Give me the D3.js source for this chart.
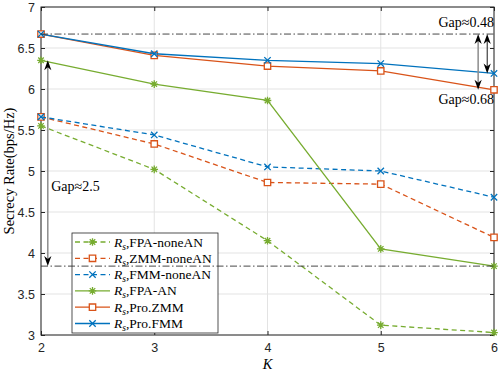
<!DOCTYPE html>
<html>
<head>
<meta charset="utf-8">
<script src="https://cdn.jsdelivr.net/npm/d3@7"></script>
<style>
  body { margin: 0; background: #fff; }
  svg { display: block; }
</style>
</head>
<body>
<div id="chart"></div>
<script>
// K values on the x axis
const kValues = [2, 3, 4, 5, 6];

// secrecy rate per scheme (bps/Hz)
const fpaNoneAN = [5.55, 5.02, 4.15, 3.12, 3.03];
const zmmNoneAN = [5.66, 5.33, 4.86, 4.84, 4.19];
const fmmNoneAN = [5.66, 5.44, 5.05, 5.0, 4.68];
const fpaAN = [6.35, 6.06, 5.86, 4.05, 3.84];
const proZMM = [6.67, 6.41, 6.28, 6.22, 5.99];
const proFMM = [6.67, 6.43, 6.35, 6.31, 6.19];

const seriesNames = ["FPA-noneAN", "ZMM-noneAN", "FMM-noneAN", "FPA-AN", "Pro.ZMM", "Pro.FMM"];

const xTicks = [2, 3, 4, 5, 6];
const yTicks = [3, 3.5, 4, 4.5, 5, 5.5, 6, 6.5, 7];

// dash-dot reference levels
const refLevels = [6.67, 3.84];

// double arrows: k position, from, to
const gapArrows = [
  { k: 2.06, from: 6.35, to: 3.84, shaft: "#8c8c8c" },
  { k: 5.86, from: 6.67, to: 5.99, shaft: "#8c8c8c" },
  { k: 5.94, from: 6.67, to: 6.19, shaft: "#1a1a1a" },
];
const gapLabels = [
  { k: 2.09, v: 4.82, text: "Gap≈2.5", anchor: "start" },
  { k: 6.0, v: 6.82, text: "Gap≈0.48", anchor: "end" },
  { k: 6.0, v: 5.88, text: "Gap≈0.68", anchor: "end" },
];

const blue = "#0072BD";
const orange = "#D95319";
const green = "#77AC30";

const series = [
  { name: seriesNames[0], values: fpaNoneAN, color: green, dashed: true, marker: "star" },
  { name: seriesNames[1], values: zmmNoneAN, color: orange, dashed: true, marker: "square" },
  { name: seriesNames[2], values: fmmNoneAN, color: blue, dashed: true, marker: "cross" },
  { name: seriesNames[3], values: fpaAN, color: green, dashed: false, marker: "star" },
  { name: seriesNames[4], values: proZMM, color: orange, dashed: false, marker: "square" },
  { name: seriesNames[5], values: proFMM, color: blue, dashed: false, marker: "cross" },
];

const width = 498;
const height = 374;
const margin = { top: 7, right: 4, bottom: 39, left: 41 };
const serif = "'Liberation Serif', 'Times New Roman', serif";
const sans = "'Liberation Sans', Arial, sans-serif";
const axisColor = "#262626";

const x = d3.scaleLinear().domain([2, 6]).range([margin.left, width - margin.right]);
const y = d3.scaleLinear().domain([3, 7]).range([height - margin.bottom, margin.top]);

const svg = d3.select("#chart").append("svg").attr("width", width).attr("height", height);
svg.append("rect").attr("width", width).attr("height", height).attr("fill", "#fff");

// grid
const grid = svg.append("g").attr("stroke", "#e3e3e3").attr("stroke-width", 1);
grid.selectAll(".gx").data(xTicks).join("line")
  .attr("x1", (d) => x(d)).attr("x2", (d) => x(d))
  .attr("y1", y(3)).attr("y2", y(7));
grid.selectAll(".gy").data(yTicks).join("line")
  .attr("x1", x(2)).attr("x2", x(6))
  .attr("y1", (d) => y(d)).attr("y2", (d) => y(d));

// axes with inward ticks on all sides
function styleAxis(g) {
  g.select(".domain").remove();
  g.selectAll(".tick line").attr("stroke", axisColor);
  g.selectAll(".tick text").attr("fill", axisColor).style("font-family", sans).style("font-size", "12.5px");
}
svg.append("g").attr("transform", `translate(0,${y(3)})`)
  .call(d3.axisBottom(x).tickValues(xTicks).tickSize(-4).tickPadding(8).tickFormat(d3.format("d")))
  .call(styleAxis);
svg.append("g").attr("transform", `translate(${x(2)},0)`)
  .call(d3.axisLeft(y).tickValues(yTicks).tickSize(-4).tickPadding(6).tickFormat((d) => String(d)))
  .call(styleAxis);
svg.append("g").attr("transform", `translate(0,${y(7)})`)
  .call(d3.axisTop(x).tickValues(xTicks).tickSize(-4).tickFormat(""))
  .call(styleAxis);
svg.append("g").attr("transform", `translate(${x(6)},0)`)
  .call(d3.axisRight(y).tickValues(yTicks).tickSize(-4).tickFormat(""))
  .call(styleAxis);
svg.append("rect")
  .attr("x", x(2)).attr("y", y(7))
  .attr("width", x(6) - x(2)).attr("height", y(3) - y(7))
  .attr("fill", "none").attr("stroke", axisColor).attr("stroke-width", 1);

// markers
function markerPath(type, s) {
  if (type === "square") return `M${-s},${-s}H${s}V${s}H${-s}Z`;
  if (type === "cross") return `M${-s},${-s}L${s},${s}M${-s},${s}L${s},${-s}`;
  const d = s * 0.72;
  return `M${-s},0H${s}M0,${-s}V${s}M${-d},${-d}L${d},${d}M${-d},${d}L${d},${-d}`;
}
const markerSize = { square: 3.2, cross: 3.2, star: 3.8 };

const line = d3.line().x((d) => x(d.k)).y((d) => y(d.v));

series.forEach((s) => {
  const pts = kValues.map((k, i) => ({ k, v: s.values[i] }));
  svg.append("path")
    .datum(pts)
    .attr("fill", "none")
    .attr("stroke", s.color)
    .attr("stroke-width", 1.3)
    .attr("stroke-dasharray", s.dashed ? "5,3.5" : null)
    .attr("d", line);
  svg.append("g").selectAll("path").data(pts).join("path")
    .attr("transform", (d) => `translate(${x(d.k)},${y(d.v)})`)
    .attr("d", markerPath(s.marker, markerSize[s.marker]))
    .attr("fill", s.marker === "square" ? "#fff" : "none")
    .attr("stroke", s.color)
    .attr("stroke-width", 1.3);
});

// legend
const legend = { x: 72, y: 233, w: 146, h: 100, row: 16.3 };
const lg = svg.append("g");
lg.append("rect")
  .attr("x", legend.x).attr("y", legend.y)
  .attr("width", legend.w).attr("height", legend.h)
  .attr("fill", "#fff").attr("stroke", axisColor).attr("stroke-width", 0.8);
series.forEach((s, i) => {
  const cy = legend.y + 9 + i * legend.row;
  lg.append("line")
    .attr("x1", legend.x + 3).attr("x2", legend.x + 38)
    .attr("y1", cy).attr("y2", cy)
    .attr("stroke", s.color).attr("stroke-width", 1.3)
    .attr("stroke-dasharray", s.dashed ? "5,3.5" : null);
  lg.append("path")
    .attr("transform", `translate(${legend.x + 20.5},${cy})`)
    .attr("d", markerPath(s.marker, markerSize[s.marker]))
    .attr("fill", s.marker === "square" ? "#fff" : "none")
    .attr("stroke", s.color).attr("stroke-width", 1.3);
  const t = lg.append("text")
    .attr("x", legend.x + 42).attr("y", cy + 4.5)
    .attr("fill", "#000")
    .style("font-family", serif).style("font-size", "13.5px");
  t.append("tspan").style("font-style", "italic").text("R");
  t.append("tspan").style("font-style", "italic").style("font-size", "9.5px").attr("dy", 3).text("s");
  t.append("tspan").attr("dy", -3).text("," + s.name);
});

// dash-dot reference lines
svg.append("g").selectAll("line").data(refLevels).join("line")
  .attr("x1", x(2)).attr("x2", x(6))
  .attr("y1", (d) => y(d)).attr("y2", (d) => y(d))
  .attr("stroke", "#333").attr("stroke-width", 0.9)
  .attr("stroke-dasharray", "7,2.5,1.5,2.5");

// gap arrows
function arrowHead(px, py, dir) {
  // dir: -1 tip pointing up, 1 tip pointing down
  const len = 10, half = 3.6, back = 7;
  return `M${px},${py}L${px - half},${py - dir * len}L${px},${py - dir * back}L${px + half},${py - dir * len}Z`;
}
const ag = svg.append("g");
gapArrows.forEach((a) => {
  const px = x(a.k);
  const y1 = y(a.from), y2 = y(a.to);
  ag.append("line")
    .attr("x1", px).attr("x2", px)
    .attr("y1", y1 + 6).attr("y2", y2 - 6)
    .attr("stroke", a.shaft).attr("stroke-width", a.shaft === "#1a1a1a" ? 1 : 1.5);
  ag.append("path").attr("d", arrowHead(px, y1, -1)).attr("fill", "#000");
  ag.append("path").attr("d", arrowHead(px, y2, 1)).attr("fill", "#000");
});
svg.append("g").selectAll("text").data(gapLabels).join("text")
  .attr("x", (d) => x(d.k)).attr("y", (d) => y(d.v))
  .attr("dy", "0.35em")
  .attr("text-anchor", (d) => d.anchor)
  .attr("fill", "#000")
  .style("font-family", serif).style("font-size", "14px")
  .text((d) => d.text);

// axis titles
svg.append("text")
  .attr("x", x(4)).attr("y", 369)
  .attr("text-anchor", "middle")
  .style("font-family", serif).style("font-size", "14.5px").style("font-style", "italic")
  .text("K");
svg.append("text")
  .attr("transform", `translate(13.5,${(y(3) + y(7)) / 2}) rotate(-90)`)
  .attr("text-anchor", "middle")
  .style("font-family", serif).style("font-size", "14.5px")
  .text("Secrecy Rate(bps/Hz)");
</script>
</body>
</html>
